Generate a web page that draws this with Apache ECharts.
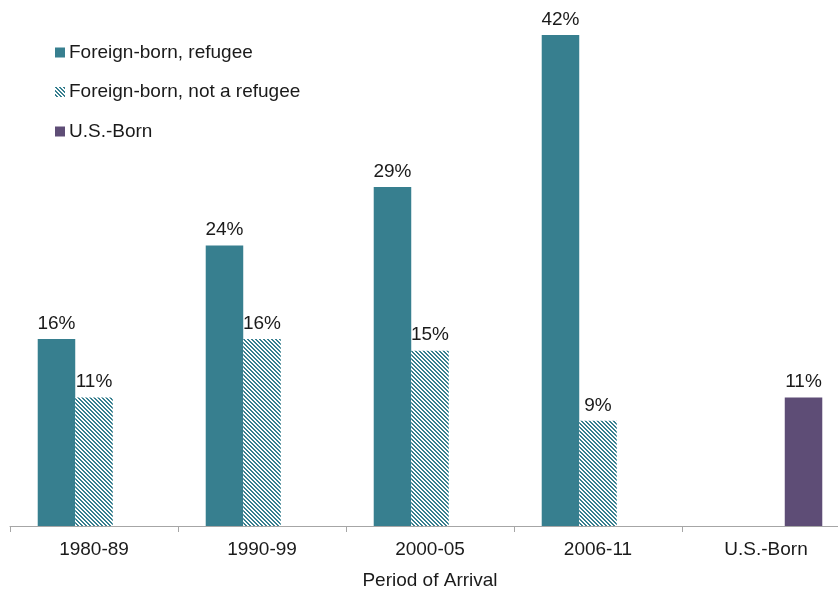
<!DOCTYPE html>
<html>
<head>
<meta charset="utf-8">
<script src="https://cdn.jsdelivr.net/npm/echarts@6/dist/echarts.min.js"></script>
<style>
  html, body { margin: 0; padding: 0; background: #fff; }
  #chart { width: 838px; height: 592px; }
</style>
</head>
<body>
<div id="chart"></div>
<script>
// Share of each group, by period of arrival (percent)
const categories = ['1980-89', '1990-99', '2000-05', '2006-11', 'U.S.-Born'];
const refugee = [16, 24, 29, 42, null];
const nonRefugee = [11, 16, 15, 9, null];
const usBorn = [null, null, null, null, 11];
const seriesNames = ['Foreign-born, refugee', 'Foreign-born, not a refugee', 'U.S.-Born'];
const axisTitle = 'Period of Arrival';

const TEAL = '#377f8f';
const PURPLE = '#5e4d76';
const FONT = '"Liberation Sans", Arial, sans-serif';
const TEXT = '#1a1a1a';

// Pixel-exact diagonal stripe tile (2px on, 2px off) for the non-refugee bars
function stripeTile() {
  const c = document.createElement('canvas');
  c.width = 4; c.height = 4;
  const g = c.getContext('2d');
  g.fillStyle = '#ffffff';
  g.fillRect(0, 0, 4, 4);
  g.fillStyle = TEAL;
  for (let y = 0; y < 4; y++) {
    for (let x = 0; x < 4; x++) {
      const d = ((x - y) % 4 + 4) % 4;
      if (d === 0 || d === 1) g.fillRect(x, y, 1, 1);
    }
  }
  return c;
}
const stripes = { image: stripeTile(), repeat: 'repeat' };

const label = {
  show: true,
  position: 'top',
  distance: 6,
  color: TEXT,
  fontFamily: FONT,
  fontSize: 19,
  formatter: p => p.value + '%'
};

const chart = echarts.init(document.getElementById('chart'), null, { renderer: 'canvas' });
chart.setOption({
  animation: false,
  backgroundColor: '#ffffff',
  legend: {
    orient: 'vertical',
    left: 55,
    top: 43,
    padding: 0,
    icon: 'rect',
    itemWidth: 10,
    itemHeight: 10,
    itemGap: 20.5,
    textStyle: { fontFamily: FONT, fontSize: 19, color: TEXT, padding: [0, 0, 0, -1] },
    data: seriesNames
  },
  grid: {
    left: 10,
    width: 840,
    top: 0,
    bottom: 66,
    containLabel: false,
    outerBoundsMode: 'none'
  },
  xAxis: {
    type: 'category',
    data: categories,
    name: axisTitle,
    nameLocation: 'middle',
    nameGap: 45,
    nameTextStyle: { fontFamily: FONT, fontSize: 19, color: TEXT },
    axisLine: { lineStyle: { color: '#a6a6a6', width: 1 } },
    axisTick: { show: true, length: 6, lineStyle: { color: '#a6a6a6' } },
    axisLabel: { margin: 14, fontFamily: FONT, fontSize: 19, color: TEXT }
  },
  yAxis: {
    type: 'value',
    min: 0,
    max: 45,
    show: false,
    splitLine: { show: false }
  },
  series: [
    {
      name: seriesNames[0], type: 'bar', data: refugee,
      itemStyle: { color: TEAL },
      barGap: '0%', barCategoryGap: '33%',
      label
    },
    {
      name: seriesNames[1], type: 'bar', data: nonRefugee,
      itemStyle: { color: stripes },
      label
    },
    {
      name: seriesNames[2], type: 'bar', data: usBorn,
      itemStyle: { color: PURPLE },
      label
    }
  ]
});
</script>
</body>
</html>
